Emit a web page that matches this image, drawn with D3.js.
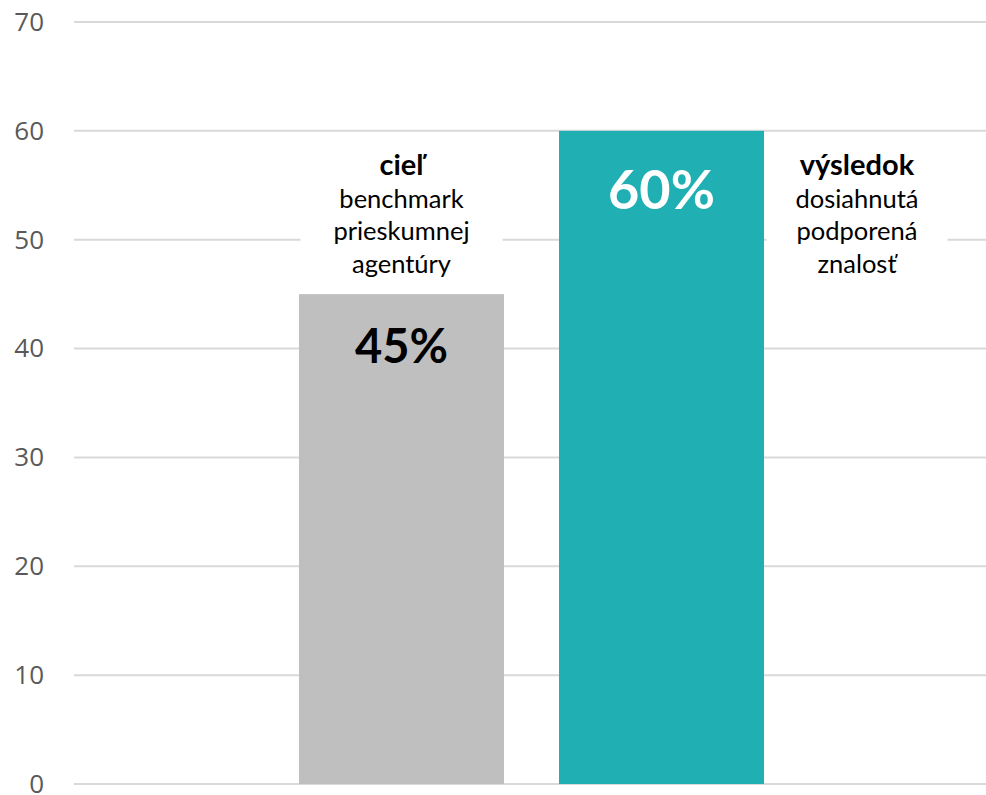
<!DOCTYPE html>
<html>
<head>
<meta charset="utf-8">
<script src="https://cdn.jsdelivr.net/npm/d3@7"></script>
<style>
  html, body { margin: 0; padding: 0; background: #fff; }
  svg { display: block; }
</style>
</head>
<body>
<svg id="chart" width="986" height="795"></svg>
<script>
// Data
const categories = ["cieľ", "výsledok"];
const values = [45, 60];
const valueLabels = ["45%", "60%"];
const titles = ["cieľ", "výsledok"];
const subtitles = [["benchmark", "prieskumnej", "agentúry"], ["dosiahnutá", "podporená", "znalosť"]];
const yTicks = [0, 10, 20, 30, 40, 50, 60, 70];

const svg = d3.select("#chart");
const plot = { left: 74, right: 986, top: 22, bottom: 784 };

const y = d3.scaleLinear().domain([0, 70]).range([plot.bottom, plot.top]);
const x = d3.scaleBand().domain(categories).range([299, 764])
  .paddingInner(55 / 260).paddingOuter(0);

// Gridlines
svg.append("g").selectAll("line").data(yTicks).join("line")
  .attr("x1", plot.left).attr("x2", plot.right)
  .attr("y1", d => y(d)).attr("y2", d => y(d))
  .attr("stroke", "#d9d9d9").attr("stroke-width", 2);

// Y axis labels
const yAxis = d3.axisLeft(y).tickValues(yTicks).tickSize(0).tickPadding(0);
const ga = svg.append("g").attr("transform", `translate(44,0)`).call(yAxis);
ga.select(".domain").remove();
ga.selectAll("text")
  .attr("font-family", "'Open Sans', sans-serif")
  .attr("font-size", 26)
  .attr("fill", "#595959");

// Bars
const colors = ["#bfbfbf", "#20afb2"];
svg.append("g").selectAll("rect").data(values).join("rect")
  .attr("x", (d, i) => x(categories[i]))
  .attr("width", x.bandwidth())
  .attr("y", d => y(d))
  .attr("height", d => y(0) - y(d))
  .attr("fill", (d, i) => colors[i]);

// Value labels inside bars
const valueFont = [47, 54];
const valueColor = ["#000", "#fff"];
const valueOffset = [69, 78];
svg.append("g").selectAll("text").data(values).join("text")
  .attr("x", (d, i) => x(categories[i]) + x.bandwidth() / 2)
  .attr("y", (d, i) => y(d) + valueOffset[i])
  .attr("text-anchor", "middle")
  .attr("font-family", "Lato, 'Open Sans', sans-serif")
  .attr("font-weight", "bold")
  .attr("font-size", (d, i) => valueFont[i])
  .attr("fill", (d, i) => valueColor[i])
  .text((d, i) => valueLabels[i]);

// Annotation blocks with white backing over the gridlines
const annCenter = [x(categories[0]) + x.bandwidth() / 2, 857];
const annWidth = [202, 181];
const baseline0 = 175;
const lineH = 32.5;
annCenter.forEach((cx, i) => {
  const g = svg.append("g");
  g.append("rect")
    .attr("x", cx - annWidth[i] / 2).attr("width", annWidth[i])
    .attr("y", baseline0 - 30).attr("height", lineH * 4 + 14)
    .attr("fill", "#fff");
  const lines = [titles[i], ...subtitles[i]];
  g.selectAll("text").data(lines).join("text")
    .attr("x", cx)
    .attr("y", (d, j) => baseline0 + j * lineH)
    .attr("text-anchor", "middle")
    .attr("font-family", "Lato, 'Open Sans', sans-serif")
    .attr("font-size", (d, j) => j === 0 ? 29 : 25.5)
    .attr("font-weight", (d, j) => j === 0 ? "bold" : "normal")
    .attr("fill", "#000")
    .text(d => d);
});
</script>
</body>
</html>
